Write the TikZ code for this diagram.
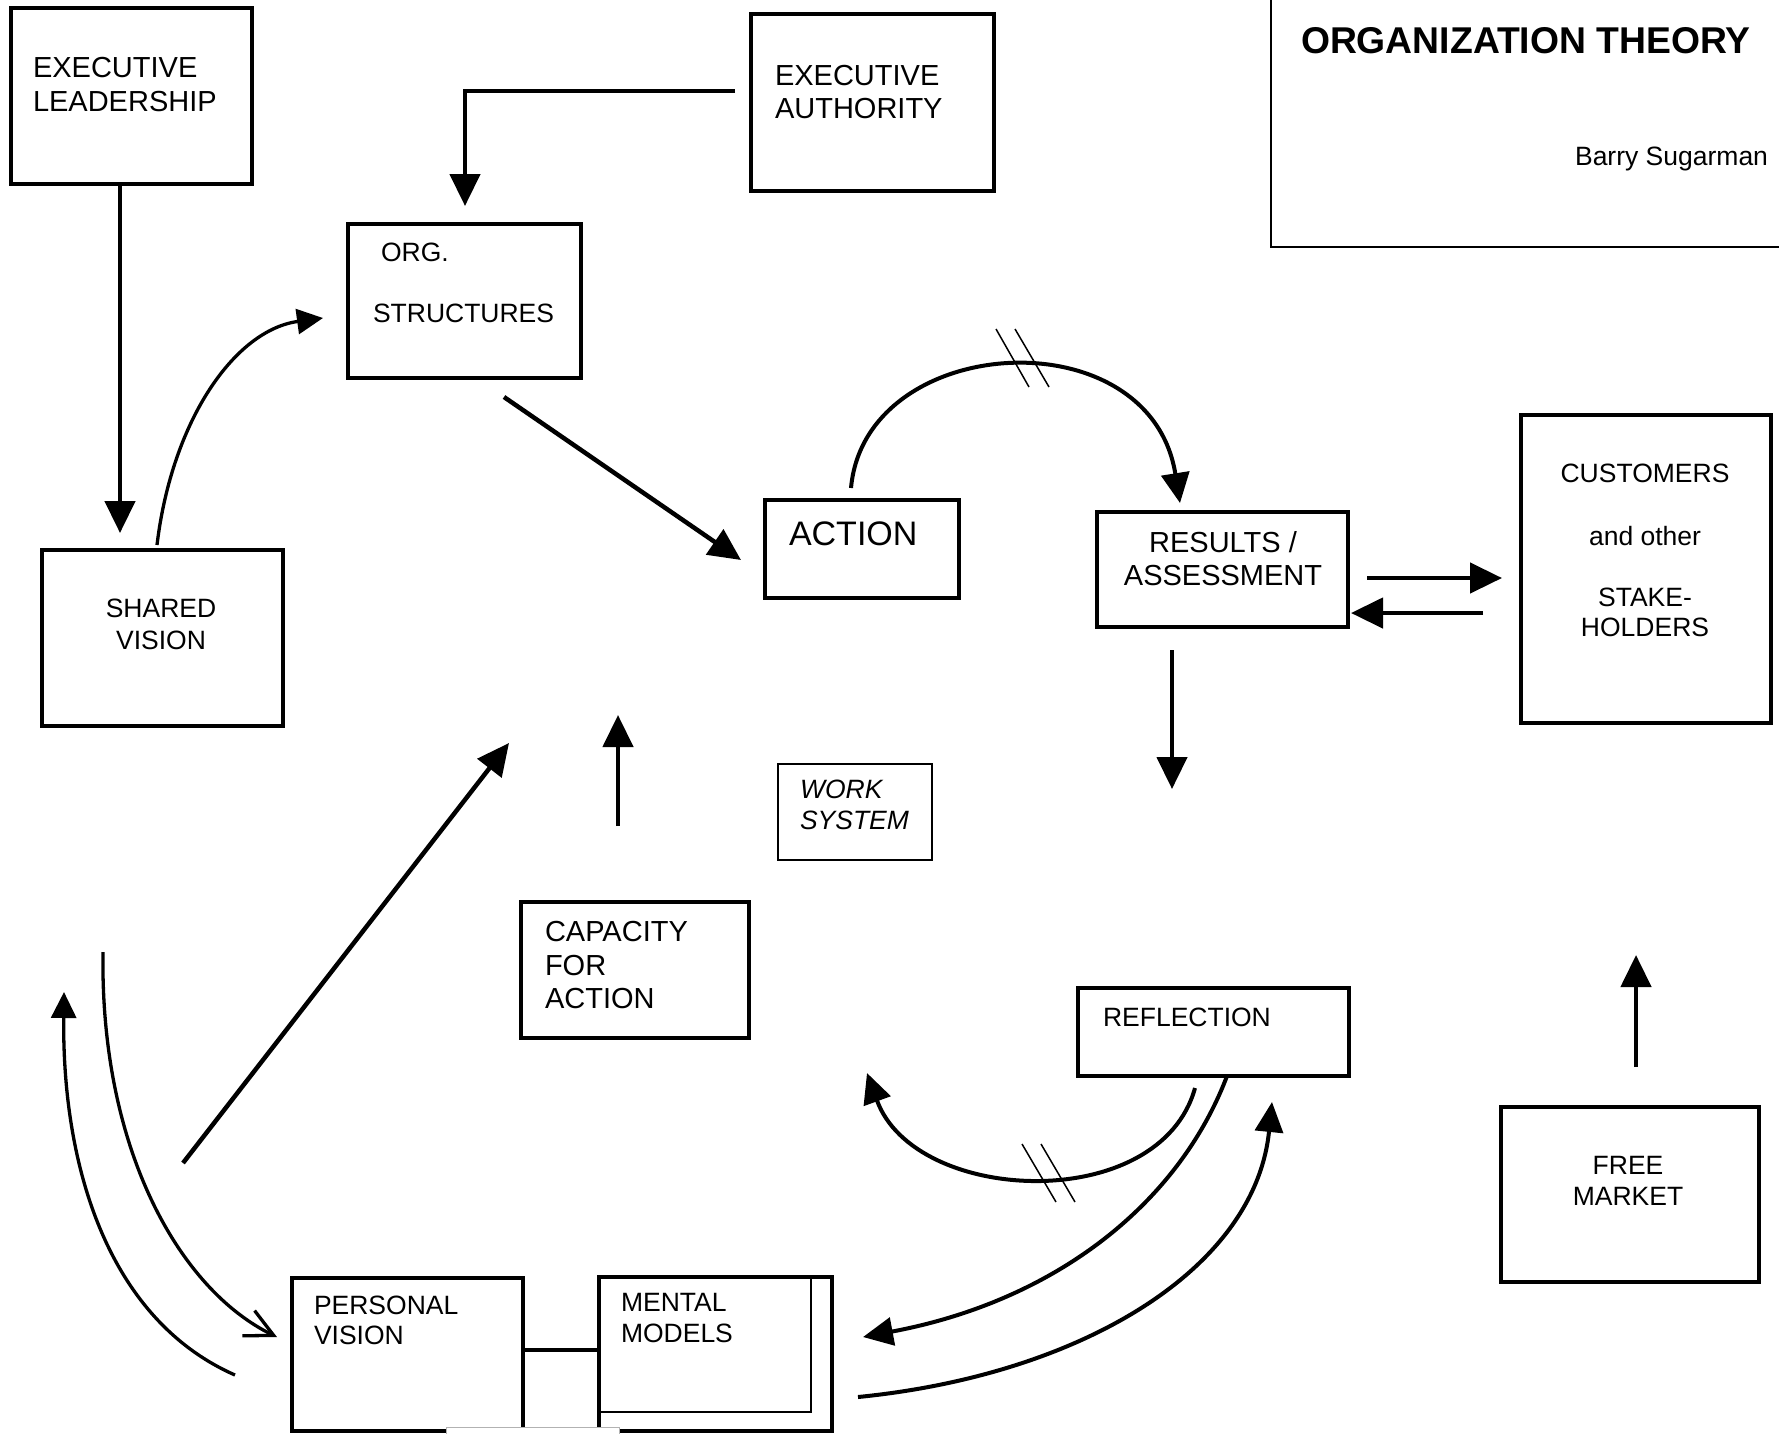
\documentclass[tikz,border=0pt]{standalone}
\usepackage{fontspec}
\setmainfont{Liberation Sans}
\usetikzlibrary{arrows.meta}
\newcommand\fsN{\fontsize{26.5}{30}\selectfont}
\newcommand\fsL{\fontsize{29}{33}\selectfont}
\newcommand\fsA{\fontsize{34}{38}\selectfont}
\newcommand\fsT{\fontsize{37.3}{41}\selectfont\bfseries}
\newcommand\fsB{\fontsize{26.5}{30}\selectfont}
\begin{document}
\begin{tikzpicture}[x=1pt,y=-1pt,
  box/.style={draw, line width=4pt, rectangle, inner sep=0pt, outer sep=0pt, anchor=north west},
  thinbox/.style={box, line width=1.5pt},
  txt/.style={inner sep=0pt, outer sep=0pt, anchor=base west},
  ctxt/.style={inner sep=0pt, outer sep=0pt, anchor=base},
  arr/.style={line width=4.5pt, -{Triangle[length=32pt,width=30pt]}},
  carr/.style={line width=4pt, -{Triangle[length=30pt,width=28pt]}},
  tarr/.style={line width=3.3pt, -{Triangle[length=26pt,width=25pt]}},
  hatch/.style={line width=1.5pt}]
\useasboundingbox (0,0) rectangle (1779,1433);
\fill[white] (0,0) rectangle (1779,1433);

% title box (open to top and right)
\node[thinbox, minimum width=530pt, minimum height=262pt] (title) at (1271,-15) {};
\node[txt, font=\fsT] (t1) at (1301,53) {ORGANIZATION THEORY};
\node[inner sep=0pt, outer sep=0pt, anchor=base east, font=\fsB] (t2) at (1768,165) {Barry Sugarman};

% boxes
\node[box, minimum width=241pt, minimum height=176pt] (el) at (11,8) {};
\node[txt, font=\fsL] (el1) at (33,77) {EXECUTIVE};
\node[txt, font=\fsL] (el2) at (33,111) {LEADERSHIP};

\node[box, minimum width=243pt, minimum height=177pt] (ea) at (751,14) {};
\node[txt, font=\fsL] (ea1) at (775,85) {EXECUTIVE};
\node[txt, font=\fsL] (ea2) at (775,118) {AUTHORITY};

\node[box, minimum width=233pt, minimum height=154pt] (org) at (348,224) {};
\node[txt, font=\fsN] (org1) at (381,261) {ORG.};
\node[txt, font=\fsN] (org2) at (373,322) {STRUCTURES};

\node[box, minimum width=194pt, minimum height=98pt] (act) at (765,500) {};
\node[txt, font=\fsA] (act1) at (789,545) {ACTION};

\node[box, minimum width=251pt, minimum height=115pt] (res) at (1097,512) {};
\node[ctxt, font=\fsL] (res1) at (1223,552) {RESULTS /};
\node[ctxt, font=\fsL] (res2) at (1223,585) {ASSESSMENT};

\node[box, minimum width=250pt, minimum height=308pt] (cust) at (1521,415) {};
\node[ctxt, font=\fsN] (cu1) at (1645,482) {CUSTOMERS};
\node[ctxt, font=\fsN] (cu2) at (1645,545) {and other};
\node[ctxt, font=\fsN] (cu3) at (1645,606) {STAKE-};
\node[ctxt, font=\fsN] (cu4) at (1645,636) {HOLDERS};

\node[box, minimum width=241pt, minimum height=176pt] (sv) at (42,550) {};
\node[ctxt, font=\fsN] (sv1) at (161,617) {SHARED};
\node[ctxt, font=\fsN] (sv2) at (161,649) {VISION};

\node[thinbox, minimum width=154pt, minimum height=96pt] (ws) at (778,764) {};
\node[txt, font=\fsN\itshape] (ws1) at (800,798) {WORK};
\node[txt, font=\fsN\itshape] (ws2) at (800,829) {SYSTEM};

\node[box, minimum width=228pt, minimum height=136pt] (cap) at (521,902) {};
\node[txt, font=\fsL] (cap1) at (545,941) {CAPACITY};
\node[txt, font=\fsL] (cap2) at (545,975) {FOR};
\node[txt, font=\fsL] (cap3) at (545,1008) {ACTION};

\node[box, minimum width=271pt, minimum height=88pt] (refl) at (1078,988) {};
\node[txt, font=\fsN] (refl1) at (1103,1026) {REFLECTION};

\node[box, minimum width=258pt, minimum height=175pt] (fm) at (1501,1107) {};
\node[ctxt, font=\fsN] (fm1) at (1628,1174) {FREE};
\node[ctxt, font=\fsN] (fm2) at (1628,1205) {MARKET};

\node[box, minimum width=231pt, minimum height=153pt] (pv) at (292,1278) {};
\node[txt, font=\fsN] (pv1) at (314,1314) {PERSONAL};
\node[txt, font=\fsN] (pv2) at (314,1344) {VISION};

\node[box, minimum width=233pt, minimum height=154pt] (mm) at (599,1277) {};
\node[thinbox, minimum width=212pt, minimum height=135pt] (mmi) at (599,1277) {};
\node[txt, font=\fsN] (mm1) at (621,1311) {MENTAL};
\node[txt, font=\fsN] (mm2) at (621,1342) {MODELS};

\draw[line width=4pt] (pv.east |- 0,1350) -- (mm.west |- 0,1350);
\node[draw=gray!60, fill=white, line width=1pt, inner sep=0pt, outer sep=0pt, anchor=north west,
      minimum width=173pt, minimum height=30pt] (cover) at (446,1427) {};

% connector end points
\coordinate (elS) at (120,184);
\coordinate (svN) at (120,533);
\coordinate (eaW) at (735,91);
\coordinate (orgN) at (465,206);
\coordinate (orgO) at (504,397);
\coordinate (actI) at (741,560);
\coordinate (svO) at (157,545);
\coordinate (orgI) at (323,318);
\coordinate (actO) at (851,488);
\coordinate (resI) at (1180,503);
\coordinate (resO) at (1367,578);
\coordinate (custI) at (1502,578);
\coordinate (custO) at (1483,613);
\coordinate (resI2) at (1351,613);
\coordinate (resD1) at (1172,650);
\coordinate (resD2) at (1172,789);
\coordinate (fmU1) at (1636,1067);
\coordinate (fmU2) at (1636,955);
\coordinate (capU1) at (618,826);
\coordinate (capU2) at (618,715);
\coordinate (dg1) at (183,1163);
\coordinate (dg2) at (509,743);
\coordinate (reflO1) at (1195,1088);
\coordinate (capI) at (867,1073);
\coordinate (reflO2) at (1227,1076);
\coordinate (mmI) at (863,1337);
\coordinate (mmO) at (858,1397);
\coordinate (reflI) at (1272,1102);
\coordinate (pvO) at (235,1375);
\coordinate (lfU) at (64,992);
\coordinate (lfT) at (103,952);
\coordinate (pvI) at (277,1337);

% connectors
\draw[arr] (elS) -- (svN);
\draw[arr] (eaW) -- (eaW -| orgN) -- (orgN);
\draw[arr] (orgO) -- (actI);
\draw[tarr] (svO) .. controls (172,420) and (235,330) .. (orgI);
\draw[carr] (actO) .. controls (865,332) and (1150,315) .. (resI);
\draw[arr] (resO) -- (custI);
\draw[arr] (custO) -- (resI2);
\draw[arr] (resD1) -- (resD2);
\draw[arr] (fmU1) -- (fmU2);
\draw[arr] (capU1) -- (capU2);
\draw[arr] (dg1) -- (dg2);
\draw[carr] (reflO1) .. controls (1160,1215) and (915,1205) .. (capI);
\draw[carr] (reflO2) .. controls (1180,1200) and (1060,1300) .. (mmI);
\draw[carr] (mmO) .. controls (1080,1375) and (1255,1270) .. (reflI);
\draw[tarr] (pvO) .. controls (110,1320) and (62,1170) .. (lfU);
\draw[line width=3.3pt, -{Straight Barb[length=28pt,width=28pt]}] (lfT) .. controls (100,1150) and (180,1290) .. (pvI);

% hatch marks
\draw[hatch] (996,329) -- (1029,387);
\draw[hatch] (1015,329) -- (1049,387);
\draw[hatch] (1022,1144) -- (1056,1202);
\draw[hatch] (1041,1144) -- (1075,1202);
\end{tikzpicture}
\end{document}
